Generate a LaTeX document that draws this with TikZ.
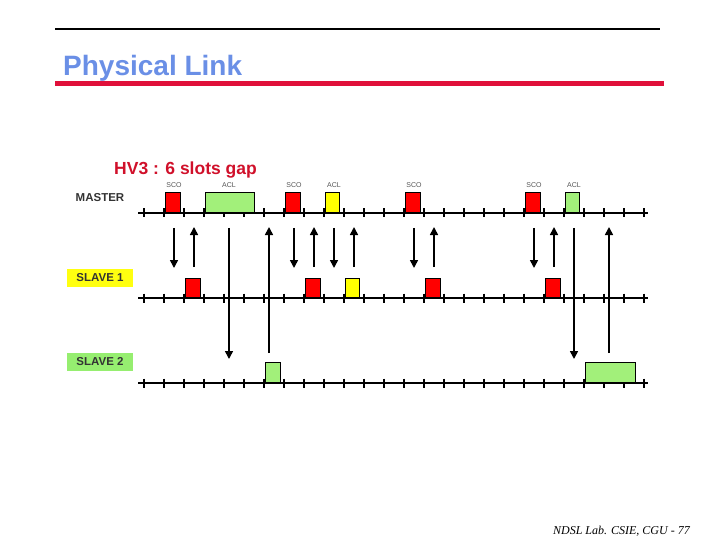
\documentclass[tikz,border=0pt]{standalone}
\usepackage{fontspec}
\setmainfont{Liberation Sans}
\newfontfamily\footfont{Liberation Serif}
\usetikzlibrary{arrows.meta}
\definecolor{titleblue}{HTML}{6A8FE6}
\definecolor{rulered}{HTML}{E0103A}
\definecolor{hvred}{HTML}{D0102A}
\definecolor{scored}{HTML}{FF0000}
\definecolor{aclgreen}{HTML}{A2F07A}
\definecolor{aclyellow}{HTML}{FFFF00}
\definecolor{lblyellow}{HTML}{FFFF10}
\definecolor{lblgreen}{HTML}{96EE70}
\definecolor{lblgray}{HTML}{333333}
\definecolor{tinygray}{HTML}{555555}
\tikzset{
  slotbox/.style={draw=black, line width=1.3pt, anchor=south west, inner sep=0pt, minimum height=#1},
  slotbox/.default=20,
  tick/.style={line width=1.8pt},
  timeline/.style={line width=2pt},
  msg/.style={line width=1.6pt, -{Triangle[length=8pt,width=8pt]}},
  tinylbl/.style={font=\fontsize{7}{8}\selectfont, text=tinygray, inner sep=0pt},
  rowlbl/.style={font=\fontsize{11.5}{12}\selectfont\bfseries, text=lblgray, inner sep=0pt, minimum width=66, minimum height=18}
}
\begin{document}
\begin{tikzpicture}[x=1pt,y=-1pt]
\useasboundingbox (0,0) rectangle (720,540);
% header rules
\coordinate (tl) at (55,29); \coordinate (tr) at (660,29);
\draw[line width=2pt] (tl) -- (tr);
\coordinate (rl) at (55,84); \coordinate (rr) at (664,84);
\draw[line width=5pt, rulered] (rl) -- (rr);
\node[anchor=base west, inner sep=0pt, text=titleblue, font=\fontsize{28}{30}\selectfont\bfseries] (title) at (63,76) {Physical Link};
\node[anchor=base west, inner sep=0pt, text=hvred, font=\fontsize{17.5}{20}\selectfont\bfseries] (hv) at (114,175) {HV3 : 6 slots gap};
% row labels
\node[rowlbl, anchor=center] (mlbl) at (100,198) {MASTER};
\node[rowlbl, fill=lblyellow, anchor=center] (s1lbl) at (100,278) {SLAVE 1};
\node[rowlbl, fill=lblgreen, anchor=center] (s2lbl) at (100,362) {SLAVE 2};
% timelines
\foreach \nm/\y in {m/213, sa/298, sb/383}{
  \coordinate (\nm L) at (138,\y); \coordinate (\nm R) at (648,\y);
  \draw[timeline] (\nm L) -- (\nm R);
  \foreach \k in {0,...,25}{
    \draw[tick] ({144+20*\k},\y-4.5) -- ({144+20*\k},\y+4.5);
  }
}
% master slots
\node[slotbox, fill=scored, minimum width=15] (m1) at (164.5,213) {};
\node[slotbox, fill=aclgreen, minimum width=49] (m2) at (204.5,213) {};
\node[slotbox, fill=scored, minimum width=15] (m3) at (284.5,213) {};
\node[slotbox, fill=aclyellow, minimum width=14] (m4) at (324.5,213) {};
\node[slotbox, fill=scored, minimum width=15] (m5) at (404.5,213) {};
\node[slotbox, fill=scored, minimum width=15] (m6) at (524.5,213) {};
\node[slotbox, fill=aclgreen, minimum width=14] (m7) at (565,213) {};
% slave 1 slots
\node[slotbox=19, fill=scored, minimum width=15] (a1) at (184.5,298) {};
\node[slotbox=19, fill=scored, minimum width=15] (a2) at (304.5,298) {};
\node[slotbox=19, fill=aclyellow, minimum width=14] (a3) at (344.5,298) {};
\node[slotbox=19, fill=scored, minimum width=15] (a4) at (424.5,298) {};
\node[slotbox=19, fill=scored, minimum width=15] (a5) at (544.5,298) {};
% slave 2 slots
\node[slotbox, fill=aclgreen, minimum width=15] (b1) at (264.5,383) {};
\node[slotbox, fill=aclgreen, minimum width=50] (b2) at (584.5,383) {};
% tiny labels
\foreach \x/\t/\n in {174/SCO/t1, 229/ACL/t2, 294/SCO/t3, 334/ACL/t4, 414/SCO/t5, 534/SCO/t6, 574/ACL/t7}{
  \node[tinylbl] (\n) at (\x,185.5) {\t};
}
% short messages
\foreach \x [count=\i] in {174,294,334,414,534}{
  \coordinate (ds\i) at (\x,228); \coordinate (de\i) at (\x,268);
  \draw[msg] (ds\i) -- (de\i);
}
\foreach \x [count=\i] in {194,314,354,434,554}{
  \coordinate (us\i) at (\x,267); \coordinate (ue\i) at (\x,227);
  \draw[msg] (us\i) -- (ue\i);
}
% long messages
\foreach \x [count=\i] in {229,574}{
  \coordinate (lds\i) at (\x,228); \coordinate (lde\i) at (\x,359);
  \draw[msg] (lds\i) -- (lde\i);
}
\foreach \x [count=\i] in {269,609}{
  \coordinate (lus\i) at (\x,353); \coordinate (lue\i) at (\x,227);
  \draw[msg] (lus\i) -- (lue\i);
}
% footer
\node[anchor=base east, inner sep=0pt, font=\footfont\itshape\fontsize{12}{14}\selectfont] (foot) at (690,534) {NDSL Lab. CSIE, CGU - 77};
\end{tikzpicture}
\end{document}
